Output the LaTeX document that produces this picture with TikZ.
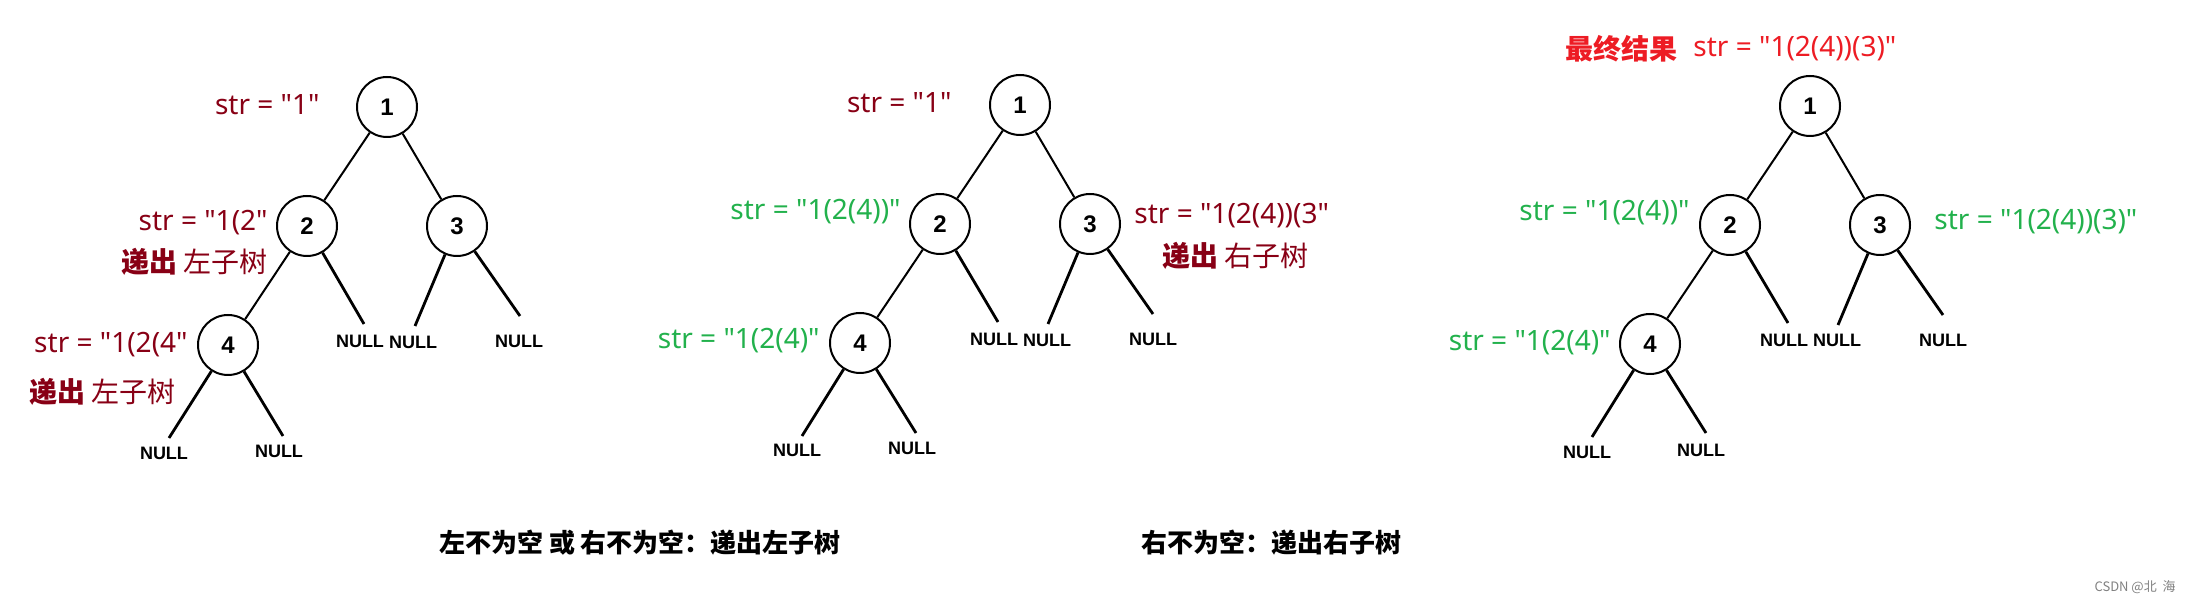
\documentclass[tikz,border=0pt]{standalone}
\usepackage{fontspec}
\newfontfamily\lat{Noto Sans}
\newfontfamily\arl{Liberation Sans}
\newfontfamily\cjk{Noto Sans CJK SC}
\definecolor{dred}{RGB}{136,0,21}
\definecolor{pgreen}{RGB}{34,177,76}
\definecolor{pred}{RGB}{237,28,36}

\begin{document}
\begin{tikzpicture}[x=0.5pt, y=-0.5pt,
    vertex/.style = {circle, draw, line width=1pt, minimum size=30pt, inner sep=0pt, font=\arl\bfseries\fontsize{12}{14}\selectfont},
    tedge/.style = {line width=1pt},
    nedge/.style = {line width=1.4pt},
    nul/.style = {inner sep=0pt, font=\arl\bfseries\fontsize{9}{10}\selectfont},
    lbl/.style = {inner sep=0pt, font=\lat\fontsize{14}{16}\selectfont},
    caption/.style = {inner sep=0pt, font=\cjk\bfseries\fontsize{13}{15}\selectfont}]
                \useasboundingbox (0,0) rectangle (2191,603);

                % first tree
                \node[vertex] (a1) at (387,107) {1};
                \node[vertex] (a2) at (307,226) {2};
                \node[vertex] (a3) at (457,226) {3};
                \node[vertex] (a4) at (228,345) {4};
                \coordinate (a2r) at (364,324);
                \coordinate (a3l) at (415,326);
                \coordinate (a3r) at (520,316);
                \coordinate (a4l) at (169,438);
                \coordinate (a4r) at (283,436);
                \draw[tedge] (a1) -- (a2);
                \draw[tedge] (a1) -- (a3);
                \draw[tedge] (a2) -- (a4);
                \draw[nedge] (a2) -- (a2r);
                \draw[nedge] (a3) -- (a3l);
                \draw[nedge] (a3) -- (a3r);
                \draw[nedge] (a4) -- (a4l);
                \draw[nedge] (a4) -- (a4r);
                \node[nul] (na2r) at (360,341) {NULL};
                \node[nul] (na3l) at (413,342) {NULL};
                \node[nul] (na3r) at (519,341) {NULL};
                \node[nul] (na4l) at (164,453) {NULL};
                \node[nul] (na4r) at (279,451) {NULL};
                \node[lbl, dred, anchor=east] (sa1) at (320,105) {str = "1"};
                \node[lbl, dred, anchor=east] (sa2) at (268,223) {str = "1(2"};
                \node[lbl, dred, anchor=east, font=\cjk\fontsize{14}{16}\selectfont] (da2) at (268,262) {{\bfseries 递出} 左子树};
                \node[lbl, dred, anchor=east] (sa4) at (188,345) {str = "1(2(4"};
                \node[lbl, dred, anchor=east, font=\cjk\fontsize{14}{16}\selectfont] (da4) at (176,392) {{\bfseries 递出} 左子树};

                % second tree
                \node[vertex] (b1) at (1020,105) {1};
                \node[vertex] (b2) at (940,224) {2};
                \node[vertex] (b3) at (1090,224) {3};
                \node[vertex] (b4) at (860,343) {4};
                \coordinate (b2r) at (998,322);
                \coordinate (b3l) at (1048,324);
                \coordinate (b3r) at (1153,314);
                \coordinate (b4l) at (802,436);
                \coordinate (b4r) at (916,433);
                \draw[tedge] (b1) -- (b2);
                \draw[tedge] (b1) -- (b3);
                \draw[tedge] (b2) -- (b4);
                \draw[nedge] (b2) -- (b2r);
                \draw[nedge] (b3) -- (b3l);
                \draw[nedge] (b3) -- (b3r);
                \draw[nedge] (b4) -- (b4l);
                \draw[nedge] (b4) -- (b4r);
                \node[nul] (nb2r) at (994,339) {NULL};
                \node[nul] (nb3l) at (1047,340) {NULL};
                \node[nul] (nb3r) at (1153,339) {NULL};
                \node[nul] (nb4l) at (797,450) {NULL};
                \node[nul] (nb4r) at (912,448) {NULL};
                \node[lbl, dred, anchor=east] (sb1) at (952,103) {str = "1"};
                \node[lbl, pgreen, anchor=east] (sb2) at (901,212) {str = "1(2(4))"};
                \node[lbl, dred, anchor=west] (sb3) at (1134,216) {str = "1(2(4))(3"};
                \node[lbl, dred, anchor=west, font=\cjk\fontsize{14}{16}\selectfont] (db3) at (1162,256) {{\bfseries 递出} 右子树};
                \node[lbl, pgreen, anchor=east] (sb4) at (820,341) {str = "1(2(4)"};

                % third tree
                \node[vertex] (c1) at (1810,106) {1};
                \node[vertex] (c2) at (1730,225) {2};
                \node[vertex] (c3) at (1880,225) {3};
                \node[vertex] (c4) at (1650,344) {4};
                \coordinate (c2r) at (1788,323);
                \coordinate (c3l) at (1838,325);
                \coordinate (c3r) at (1943,315);
                \coordinate (c4l) at (1592,437);
                \coordinate (c4r) at (1706,433);
                \draw[tedge] (c1) -- (c2);
                \draw[tedge] (c1) -- (c3);
                \draw[tedge] (c2) -- (c4);
                \draw[nedge] (c2) -- (c2r);
                \draw[nedge] (c3) -- (c3l);
                \draw[nedge] (c3) -- (c3r);
                \draw[nedge] (c4) -- (c4l);
                \draw[nedge] (c4) -- (c4r);
                \node[nul] (nc2r) at (1784,340) {NULL};
                \node[nul] (nc3l) at (1837,340) {NULL};
                \node[nul] (nc3r) at (1943,340) {NULL};
                \node[nul] (nc4l) at (1587,452) {NULL};
                \node[nul] (nc4r) at (1701,450) {NULL};
                \node[lbl, pred, anchor=west, font=\cjk\bfseries\fontsize{14}{16}\selectfont] (fc) at (1565,49) {最终结果};
                \node[lbl, pred, anchor=west] (sc1) at (1693,49) {str = "1(2(4))(3)"};
                \node[lbl, pgreen, anchor=east] (sc2) at (1690,213) {str = "1(2(4))"};
                \node[lbl, pgreen, anchor=west] (sc3) at (1934,222) {str = "1(2(4))(3)"};
                \node[lbl, pgreen, anchor=east] (sc4) at (1611,343) {str = "1(2(4)"};

                % captions
                \node[caption] (cap1) at (640,543) {左不为空 或 右不为空：递出左子树};
                \node[caption] (cap2) at (1271,543) {右不为空：递出右子树};
                \node[inner sep=0pt, anchor=east, text=gray, font=\cjk\fontsize{6.5}{8}\selectfont] (wm) at (2176,587) {CSDN @北\ \ 海};
            \end{tikzpicture}
\end{document}
